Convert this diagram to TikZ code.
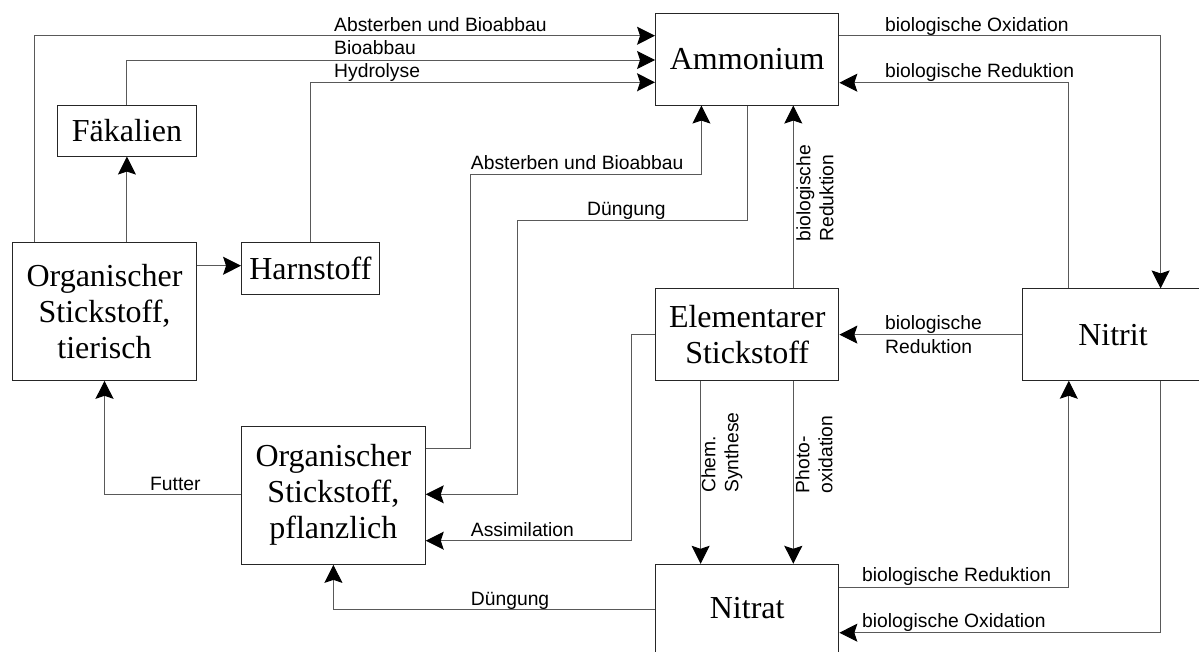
\documentclass[tikz,border=0pt]{standalone}
\usepackage{fontspec}
\setmainfont{Liberation Serif}
\setsansfont{Liberation Sans}
\usetikzlibrary{arrows.meta}
\begin{document}
\begin{tikzpicture}[x=1pt,y=-1pt,
  box/.style={draw=black!85,line width=1pt,inner sep=0pt,align=center,
    font=\fontsize{32}{36}\selectfont},
  conn/.style={draw=black!65,line width=1pt,
    -{Stealth[length=18pt,width=18pt,inset=3pt,color=black]}},
  lbl/.style={inner sep=0pt,font=\sffamily\fontsize{19.3}{24}\selectfont,align=left},
  vlbl/.style={inner sep=0pt,font=\sffamily\fontsize{19.3}{23}\selectfont,align=left,rotate=90,anchor=west}]
\useasboundingbox[fill=white] (0,0) rectangle (1199,651);
% boxes
\node[box,minimum width=183.3pt,minimum height=91.3pt] (amm) at (747.2,59.4) {Ammonium};
\node[box,minimum width=139pt,minimum height=50.7pt] (fak) at (126.9,130.7) {Fäkalien};
\node[box,minimum width=183.7pt,minimum height=138pt] (tier) at (104.5,311.3) {Organischer\\Stickstoff,\\tierisch};
\node[box,minimum width=137.7pt,minimum height=51.7pt] (harn) at (310.4,268.2) {Harnstoff};
\node[box,minimum width=183.3pt,minimum height=91.3pt] (elem) at (747.2,334.6) {Elementarer\\Stickstoff};
\node[box,minimum width=182pt,minimum height=91.3pt] (nitrit) at (1113,334.6) {Nitrit};
\node[box,minimum width=183.7pt,minimum height=138.3pt] (pfl) at (333.4,495.2) {Organischer\\Stickstoff,\\pflanzlich};
\node[box,minimum width=183.3pt,minimum height=88pt] (nitrat) at (747.2,608.3) {Nitrat};
% connectors
\draw[conn] (tier.north -| 34.8,0) |- (amm.west |- 0,35.7);
\draw[conn] (tier.north -| fak.south) -- (fak.south);
\draw[conn] (fak.north) |- (amm.west |- 0,60);
\draw[conn] (tier.east |- 0,265.7) -- (harn.west |- 0,265.7);
\draw[conn] (harn.north) |- (amm.west |- 0,82.3);
\draw[conn] (amm.east |- 0,35.7) -| (nitrit.north -| 1160.6,0);
\draw[conn] (nitrit.north -| 1068.8,0) |- (amm.east |- 0,82.7);
\draw[conn] (pfl.east |- 0,448.7) -| (470.7,174) -| (amm.south -| 701.4,0);
\draw[conn] (amm.south) |- (517,220) |- (pfl.east |- 0,494.3);
\draw[conn] (elem.north -| 793.3,0) -- (amm.south -| 793.3,0);
\draw[conn] (nitrit.west) -- (elem.east);
\draw[conn] (elem.west) -| (631.8,540.7) -- (pfl.east |- 0,540.7);
\draw[conn] (elem.south -| 700.6,0) -- (nitrat.north -| 700.6,0);
\draw[conn] (elem.south -| 793.3,0) -- (nitrat.north -| 793.3,0);
\draw[conn] (nitrat.west |- 0,609.5) -| (pfl.south);
\draw[conn] (nitrat.east |- 0,587) -| (nitrit.south -| 1068.8,0);
\draw[conn] (nitrit.south -| 1160.6,0) |- (nitrat.east |- 0,632.7);
\draw[conn] (pfl.west |- 0,494.3) -| (tier.south);
% labels
\node[lbl,anchor=base west] (l1) at (334,31.5) {Absterben und Bioabbau};
\node[lbl,anchor=base west] (l2) at (334,54) {Bioabbau};
\node[lbl,anchor=base west] (l3) at (334,77.3) {Hydrolyse};
\node[lbl,anchor=base west] (l4) at (885,31.5) {biologische Oxidation};
\node[lbl,anchor=base west] (l5) at (885,77.3) {biologische Reduktion};
\node[lbl,anchor=base west] (l6) at (470.7,169.3) {Absterben und Bioabbau};
\node[lbl,anchor=base west] (l7) at (587,215) {Düngung};
\node[lbl,anchor=west] (l8) at (885,334.6) {biologische\\Reduktion};
\node[lbl,anchor=base west] (l9) at (150,490.7) {Futter};
\node[lbl,anchor=base west] (l10) at (470.7,536) {Assimilation};
\node[lbl,anchor=base west] (l11) at (470.7,605) {Düngung};
\node[lbl,anchor=base west] (l12) at (862,581.7) {biologische Reduktion};
\node[lbl,anchor=base west] (l13) at (862,627.3) {biologische Oxidation};
\node[vlbl] (v1) at (815,241.7) {biologische\\Reduktion};
\node[vlbl] (v2) at (722,493) {Chem.\\Synthese};
\node[vlbl] (v3) at (814,493.3) {Photo-\\oxidation};
\end{tikzpicture}
\end{document}
